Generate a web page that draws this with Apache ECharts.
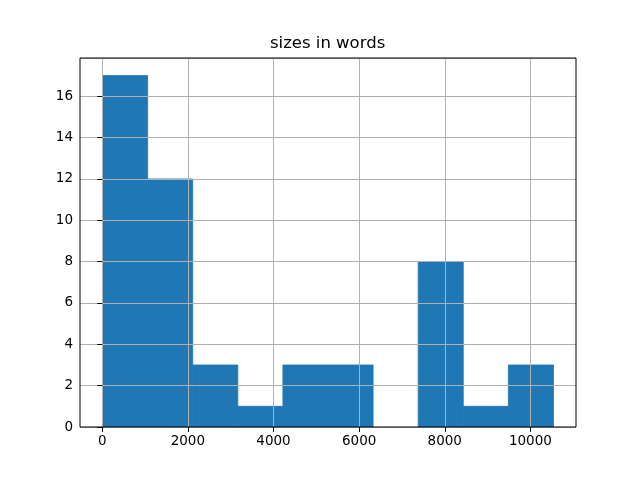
<!DOCTYPE html>
<html>
<head>
<meta charset="utf-8">
<script src="https://cdn.jsdelivr.net/npm/echarts@6/dist/echarts.min.js"></script>
<style>html,body{margin:0;padding:0;background:#fff}#c{width:640px;height:480px}</style>
</head>
<body>
<div id="c"></div>
<script>
// Histogram of sizes in words: 10 bins
var binEdges = [8, 1061, 2114, 3167, 4220, 5273, 6326, 7379, 8432, 9485, 10538];
var counts = [17, 12, 3, 1, 3, 3, 0, 8, 1, 3];
var xTicks = [0, 2000, 4000, 6000, 8000, 10000];
var yTicks = [0, 2, 4, 6, 8, 10, 12, 14, 16];
var titleText = 'sizes in words';

var dataRange = binEdges[binEdges.length - 1] - binEdges[0];
var xMin = binEdges[0] - 0.05 * dataRange;
var xMax = binEdges[binEdges.length - 1] + 0.05 * dataRange;
var yMax = Math.max.apply(null, counts) * 1.05;

var bars = counts.map(function (c, i) { return [binEdges[i], binEdges[i + 1], c]; });

var font = 'DejaVu Sans';
var chart = echarts.init(document.getElementById('c'), null, {renderer: 'canvas'});
chart.setOption({
  animation: false,
  backgroundColor: '#ffffff',
  title: {
    text: titleText, left: 270, top: 35, padding: 0,
    textStyle: {fontFamily: font, fontSize: 16.5, fontWeight: 'normal', color: '#000'}
  },
  grid: {left: 80, right: 64, top: 58, bottom: 53, show: true, borderColor: '#000', borderWidth: 1, backgroundColor: 'transparent', z: 5},
  xAxis: {
    type: 'value', min: xMin, max: xMax, z: 3,
    axisLine: {show: false},
    axisTick: {show: true, length: 5, lineStyle: {color: '#000', width: 1},
      customValues: xTicks},
    axisLabel: {fontFamily: font, fontSize: 13.5, color: '#000', margin: 7,
      customValues: xTicks, formatter: function (v) { return String(v); }},
    splitLine: {show: true, lineStyle: {color: '#b0b0b0', width: 1}}
  },
  yAxis: {
    type: 'value', min: 0, max: yMax, interval: 2, z: 3,
    axisLine: {show: false},
    axisTick: {show: true, length: 5, lineStyle: {color: '#000', width: 1}},
    axisLabel: {fontFamily: font, fontSize: 13.5, color: '#000', margin: 7,
      showMaxLabel: false,
      formatter: function (v) { return yTicks.indexOf(v) >= 0 ? String(v) : ''; }},
    splitLine: {show: true, lineStyle: {color: '#b0b0b0', width: 1}}
  },
  series: [{
    type: 'custom', z: 1,
    data: bars,
    encode: {x: [0, 1], y: 2},
    renderItem: function (params, api) {
      if (api.value(2) <= 0) { return null; }
      var p0 = api.coord([api.value(0), api.value(2)]);
      var p1 = api.coord([api.value(1), 0]);
      return {
        type: 'rect',
        shape: {x: p0[0], y: p0[1], width: p1[0] - p0[0], height: p1[1] - p0[1]},
        style: {fill: '#1f77b4', stroke: '#1f77b4', lineWidth: 0.8}
      };
    }
  }]
});
</script>
</body>
</html>
